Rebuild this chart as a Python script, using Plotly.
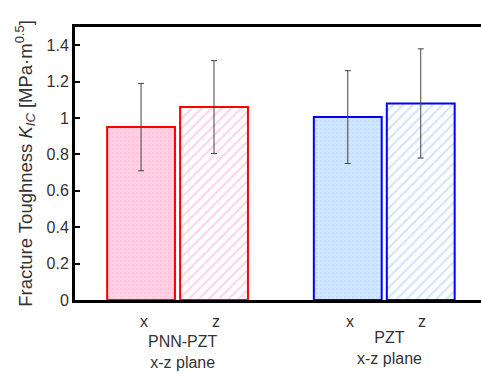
import plotly.graph_objects as go

groups = ["PNN-PZT", "PZT"]
group_labels = ["PNN-PZT<br>x-z plane", "PZT<br>x-z plane"]
directions = ["x", "z"]
x_values = [0.95, 1.005]
x_errors = [0.24, 0.255]
z_values = [1.06, 1.08]
z_errors = [0.255, 0.30]

edge_colors = ["#ff0000", "#0000ff"]
solid_fill = ["#ffd0e4", "#cfe5ff"]
dot_fg = ["#ffbcd8", "#b9d9ff"]
hatch_fg = ["#ffa6cc", "#a2c8ff"]

fig = go.Figure()
for i, g in enumerate(groups):
    # x-direction bar (dotted fill)
    fig.add_trace(go.Bar(
        x=[g], y=[x_values[i]], name="x", offsetgroup="x",
        error_y=dict(type="data", array=[x_errors[i]], color="#444444", thickness=1, width=3),
        marker=dict(color=solid_fill[i], line=dict(color=edge_colors[i], width=2),
                    pattern=dict(shape=".", bgcolor=solid_fill[i], fgcolor=dot_fg[i],
                                 size=4, solidity=0.3)),
    ))
    # z-direction bar (hatched fill)
    fig.add_trace(go.Bar(
        x=[g], y=[z_values[i]], name="z", offsetgroup="z",
        error_y=dict(type="data", array=[z_errors[i]], color="#444444", thickness=1, width=3),
        marker=dict(color="white", line=dict(color=edge_colors[i], width=2),
                    pattern=dict(shape="/", bgcolor="white", fgcolor=hatch_fg[i],
                                 size=7, solidity=0.3)),
    ))

font = dict(family="Liberation Sans, Arial, sans-serif", size=16, color="#333333")

annotations = []
for g, lbl, dy in zip(groups, group_labels, [-52, -48]):
    for d, sh in zip(directions, [-34, 38]):
        annotations.append(dict(x=g, y=0, xref="x", yref="paper", text=d,
                                showarrow=False, xshift=sh, yshift=-21,
                                yanchor="middle", font=font))
    annotations.append(dict(x=g, y=0, xref="x", yref="paper", text=lbl,
                            showarrow=False, xshift=5, yshift=dy,
                            yanchor="middle", font=font))

fig.update_layout(
    width=481, height=374,
    margin=dict(l=75, r=0, t=27, b=74, autoexpand=False),
    paper_bgcolor="white", plot_bgcolor="white",
    barmode="group", bargap=0.294, bargroupgap=0.07,
    showlegend=False,
    font=font,
    annotations=annotations,
    xaxis=dict(range=[-0.496, 1.468], showticklabels=False, ticks="",
               showline=True, linecolor="black", linewidth=3, mirror=True,
               showgrid=False, zeroline=False, automargin=False),
    yaxis=dict(range=[0, 1.5], tickvals=[0, 0.2, 0.4, 0.6, 0.8, 1, 1.2, 1.4],
               ticktext=["0", "0.2", "0.4", "0.6", "0.8", "1", "1.2", "1.4"],
               ticks="inside", ticklen=5, tickwidth=1.5, tickcolor="black",
               showline=True, linecolor="black", linewidth=3,
               showgrid=False, zeroline=False, automargin=False,
               title=dict(text="Fracture Toughness <i>K</i><sub><i>IC</i></sub> [MPa·m<sup>0.5</sup>]",
                          font=dict(size=18.5, color="#333333"), standoff=10)),
)

fig.write_html("out.html", config={"displayModeBar": False},
               post_script="document.body.style.margin='0';document.body.style.overflow='hidden';")
